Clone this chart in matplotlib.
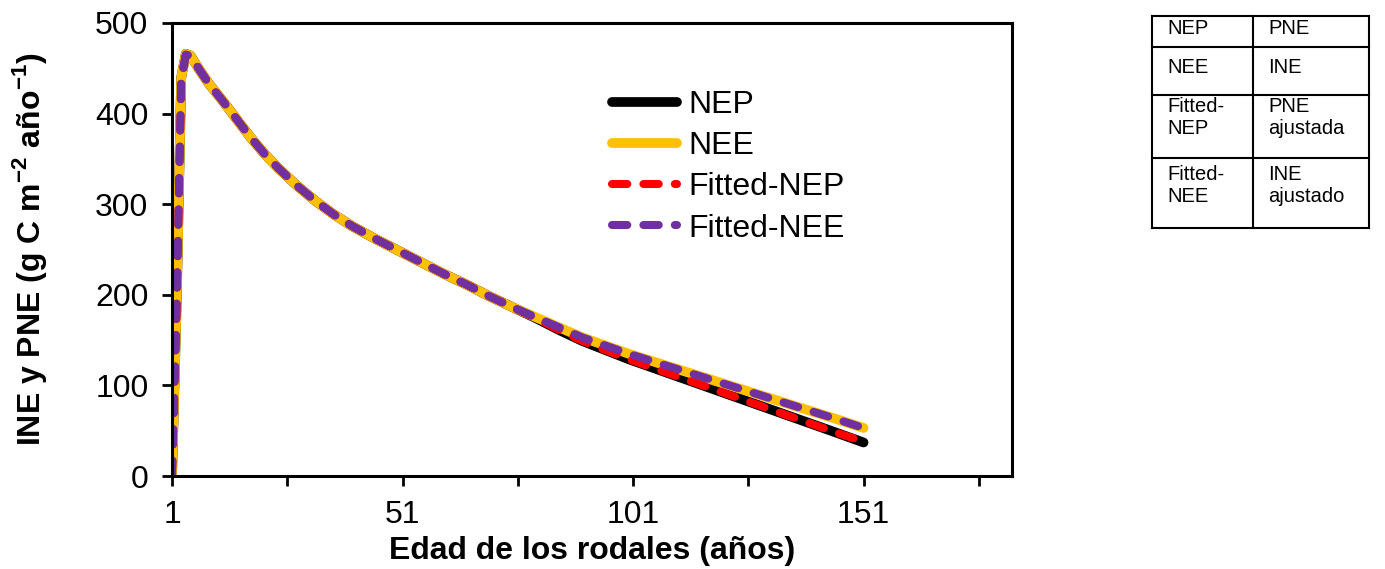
import matplotlib.pyplot as plt

plt.rcParams['font.family'] = ['Liberation Sans', 'DejaVu Sans']
plt.rcParams['mathtext.fontset'] = 'custom'
plt.rcParams['mathtext.rm'] = 'Liberation Sans'
plt.rcParams['mathtext.bf'] = 'Liberation Sans:bold'

# Datos
edad = [1, 2, 3, 4, 5, 7, 9, 12, 15, 18, 21, 24, 28, 32, 36, 40, 45, 50, 55, 60, 65, 70, 75,
        80, 85, 90, 95, 100, 105, 110, 115, 120, 125, 130, 135, 140, 145, 151]
nep = [0, 190, 440, 466, 464, 448, 433, 414, 394, 374, 356, 340, 321, 304, 289, 276, 262, 249,
       236, 223, 211, 198, 186, 174, 161, 149, 139, 129, 120, 111, 102, 93, 84, 75, 66, 57, 48, 37]
nee = [0, 190, 440, 466, 464, 448, 433, 414, 394, 374, 356, 340, 321, 304, 289, 276, 262, 249,
       236, 223, 211, 198, 186, 175, 164, 153, 144, 135, 127, 119, 111, 103, 95, 87, 79, 71, 63, 53]
nep_fit = [0, 185, 438, 465, 464, 448, 433, 414, 394, 374, 356, 340, 321, 304, 289, 276, 262, 249,
           236, 223, 211, 198, 186, 174, 161, 149, 139, 129, 120, 111, 102, 93, 84, 75, 66, 57, 48, 38]
nee_fit = [0, 185, 438, 465, 464, 448, 433, 414, 394, 374, 356, 340, 321, 304, 289, 276, 262, 249,
           236, 223, 211, 198, 186, 175, 164, 153, 144, 135, 127, 119, 111, 103, 95, 87, 79, 71, 63, 53]

xticks = [1, 26, 51, 76, 101, 126, 151, 176]
xtick_labels = ['1', '', '51', '', '101', '', '151', '']
yticks = [0, 100, 200, 300, 400, 500]

tabla = [("NEP", "PNE"), ("NEE", "INE"), ("Fitted-\nNEP", "PNE\najustada"), ("Fitted-\nNEE", "INE\najustado")]

W, H = 1385, 569
fig = plt.figure(figsize=(W / 100, H / 100), dpi=100)
ax = fig.add_axes([172 / W, 1 - 476 / H, 840 / W, 453 / H])

ax.plot(edad, nep, color='black', lw=7, solid_capstyle='round', solid_joinstyle='round', label='NEP')
ax.plot(edad, nee, color='#FFC000', lw=7, solid_capstyle='round', solid_joinstyle='round', label='NEE')
ax.plot(edad, nep_fit, color='#FF0000', lw=5.8, linestyle=(0, (1.9, 2.0)),
        dash_capstyle='round', label='Fitted-NEP')
ax.plot(edad, nee_fit, color='#7030A0', lw=5.8, linestyle=(0, (1.9, 2.0)),
        dash_capstyle='round', label='Fitted-NEE')

ax.set_xlim(1, 183.2)
ax.set_ylim(0, 500)
ax.set_xticks(xticks)
ax.set_xticklabels(xtick_labels)
ax.set_yticks(yticks)
ax.tick_params(direction='out', length=7, width=2, labelsize=23)
ax.tick_params(axis='y', pad=10)
ax.tick_params(axis='x', pad=10)
for s in ax.spines.values():
    s.set_linewidth(2.2)

ax.set_xlabel('Edad de los rodales (años)', fontsize=23, fontweight='bold', va='center')
ax.xaxis.set_label_coords(0.5, (476 - 551) / 453)
ax.set_ylabel(r'INE y PNE (g C m$^{\mathbf{-2}}$ año$^{\mathbf{-1}}$)', fontsize=23,
              fontweight='bold', va='center')
ax.yaxis.set_label_coords((30 - 172) / 840, 0.5)

fig.legend(loc='upper left', bbox_to_anchor=(612 / W, 1 - 90 / H), frameon=False,
           fontsize=23, borderpad=0, borderaxespad=0, handlelength=2.04,
           handletextpad=0.34, labelspacing=0.35)

# Tabla de equivalencias
tx = fig.add_axes([0, 0, 1, 1], zorder=-1)
tx.set_xlim(0, W)
tx.set_ylim(H, 0)
tx.axis('off')
filas = [16, 47, 95, 158, 228]
cols = [1152, 1253, 1369]
for y in filas:
    tx.plot([cols[0], cols[-1]], [y, y], color='black', lw=1.5)
for x in cols:
    tx.plot([x, x], [filas[0], filas[-1]], color='black', lw=1.5)
tops = [19, 58, 97, 165]
for (a, b), t in zip(tabla, tops):
    tx.text(1167, t, a, fontsize=14.5, va='top', ha='left', linespacing=1.17)
    tx.text(1268, t, b, fontsize=14.5, va='top', ha='left', linespacing=1.17)

fig.savefig('out.png', dpi=100)
